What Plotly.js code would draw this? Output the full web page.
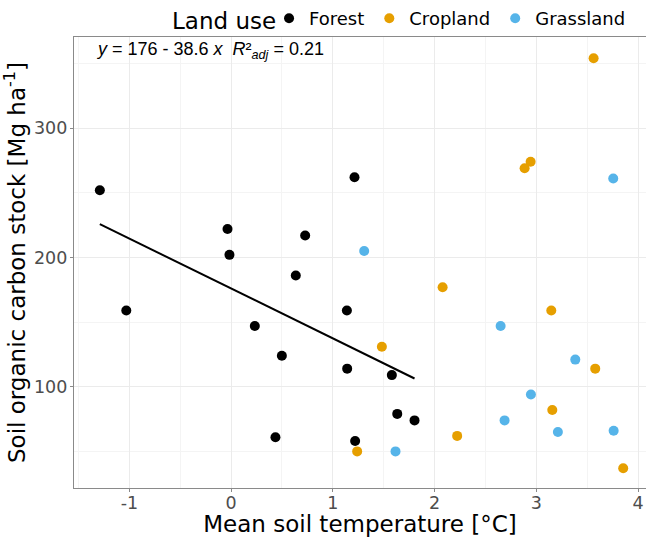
<!DOCTYPE html>
<html>
<head>
<meta charset="utf-8">
<script src="https://cdn.plot.ly/plotly-3.0.1.min.js"></script>
<style>html,body{margin:0;padding:0;overflow:hidden;background:#fff}</style>
</head>
<body>
<div id="chart" style="width:646px;height:537px"></div>
<script>
// Forest
const forestX = [-1.29, -1.03, -0.035, -0.016, 0.728, 1.213, 0.636, 0.233, 0.499, 1.138, 1.141, 0.436, 1.219, 1.580, 1.633, 1.803];
const forestY = [252, 159, 222, 202, 217, 262, 186, 147, 124, 159, 114, 61, 58, 109, 79, 74];
// Cropland
const cropX = [3.563, 2.944, 2.885, 2.079, 3.147, 1.482, 3.579, 3.157, 2.222, 1.239, 3.854];
const cropY = [354, 274, 269, 177, 159, 131, 114, 82, 62, 50, 37];
// Grassland
const grassX = [3.756, 1.308, 2.649, 3.383, 2.947, 2.688, 3.212, 3.760, 1.616];
const grassY = [261, 205, 147, 121, 94, 74, 65, 66, 50];
// Tick labels
const xTicks = [-1, 0, 1, 2, 3, 4];
const xTickText = ['-1', '0', '1', '2', '3', '4'];
const yTicks = [100, 200, 300];
const xMinor = [-1.5, -0.5, 0.5, 1.5, 2.5, 3.5];
const yMinor = [50, 150, 250, 350];
// Regression on forest
const intercept = 176;
const slope = -38.6;
const r2adj = 0.21;

const font = "'DejaVu Sans', Verdana, sans-serif";
const fxMin = Math.min(...forestX), fxMax = Math.max(...forestX);
const lineX = [fxMin, fxMax];
const lineY = lineX.map(x => intercept + slope * x);

const traces = [
  {x: forestX, y: forestY, mode: 'markers', type: 'scatter', name: 'Forest',
   marker: {color: '#000000', size: 10}},
  {x: cropX, y: cropY, mode: 'markers', type: 'scatter', name: 'Cropland',
   marker: {color: '#E69F00', size: 10}},
  {x: grassX, y: grassY, mode: 'markers', type: 'scatter', name: 'Grassland',
   marker: {color: '#56B4E9', size: 10}},
  {x: lineX, y: lineY, mode: 'lines', type: 'scatter', showlegend: false,
   line: {color: '#000000', width: 2}}
];

const layout = {
  width: 646, height: 537,
  margin: {l: 74, r: 0, t: 33, b: 49},
  paper_bgcolor: '#ffffff', plot_bgcolor: '#ffffff',
  font: {family: font, color: '#000'},
  showlegend: true,
  legend: {
    orientation: 'h', x: 0.341, xanchor: 'left', y: 1, yanchor: 'bottom',
    font: {size: 18, family: font, color: '#000'},
    itemwidth: 30, bgcolor: 'rgba(0,0,0,0)'
  },
  xaxis: {
    range: [-1.544, 4.078], tickvals: xTicks, ticktext: xTickText,
    tickfont: {size: 17.5, color: '#4d4d4d'},
    title: {text: 'Mean soil temperature [°C]', font: {size: 23, color: '#000'}, standoff: 0},
    showline: true, linecolor: '#8a8a8a', linewidth: 1.2, mirror: true,
    ticks: 'outside', ticklen: 3, tickcolor: '#8a8a8a', ticklabelstandoff: -4,
    showgrid: true, gridcolor: '#ebebeb', gridwidth: 1,
    zeroline: true, zerolinecolor: '#ebebeb', zerolinewidth: 1,
    minor: {tickvals: xMinor, showgrid: true, gridcolor: '#f4f4f4', gridwidth: 1, ticks: ''}
  },
  yaxis: {
    range: [21.7, 370.5], tickvals: yTicks,
    tickfont: {size: 17.5, color: '#4d4d4d'},
    title: {text: 'Soil organic carbon stock [Mg ha<sup>-1</sup>]', font: {size: 23, color: '#000'}, standoff: 2},
    showline: true, linecolor: '#8a8a8a', linewidth: 1.2,
    ticks: 'outside', ticklen: 3, tickcolor: '#8a8a8a', ticklabelstandoff: -1,
    showgrid: true, gridcolor: '#ebebeb', gridwidth: 1, zeroline: false,
    minor: {tickvals: yMinor, showgrid: true, gridcolor: '#f4f4f4', gridwidth: 1, ticks: ''}
  },
  annotations: [
    {
      xref: 'paper', yref: 'paper', x: 0.035, y: 1, xanchor: 'left', yanchor: 'top', yshift: 0,
      showarrow: false,
      text: '<i>y</i> = ' + intercept + ' - ' + Math.abs(slope) + ' <i>x</i>  <i>R</i>²<sub><i>adj</i></sub> = ' + r2adj,
      font: {family: "'Liberation Sans', Arial, sans-serif", size: 18, color: '#000'}
    },
    {
      xref: 'paper', yref: 'paper', x: (170 - 74) / 572, y: 1, xanchor: 'left', yanchor: 'bottom', yshift: 1,
      showarrow: false, text: 'Land use',
      font: {family: font, size: 23, color: '#000'}
    }
  ]
};

Plotly.newPlot('chart', traces, layout, {displayModeBar: false, staticPlot: true});
</script>
</body>
</html>
